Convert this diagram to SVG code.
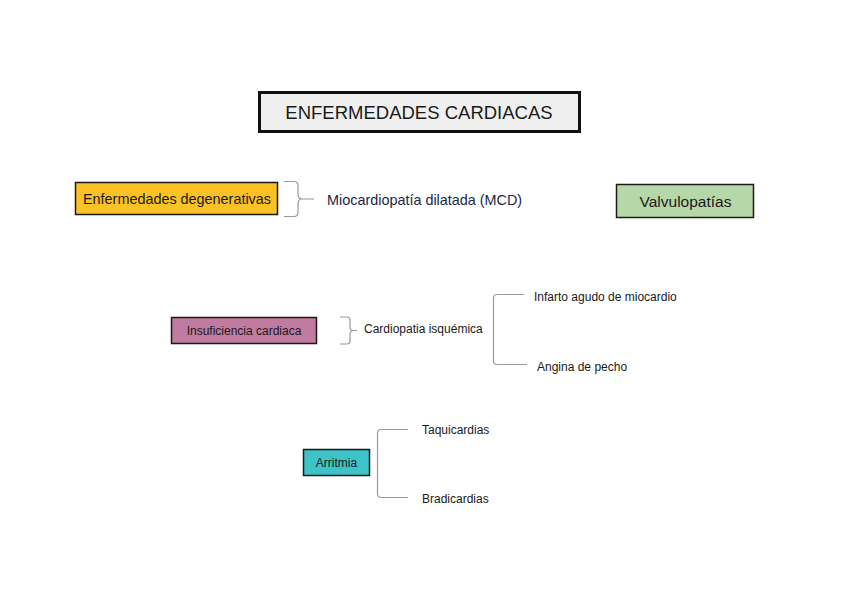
<svg xmlns="http://www.w3.org/2000/svg" width="848" height="599" viewBox="0 0 848 599">
<style>
text{font-family:"Liberation Sans",Arial,sans-serif;fill:#1a1a1a}
.box{stroke:#1a1a1a;stroke-width:1.5}
.con{fill:none;stroke:#9a9a9a;stroke-width:1.2}
.s{font-size:12px}
</style>
<rect width="848" height="599" fill="#ffffff"/>
<g id="title">
<rect x="259.5" y="92.5" width="320" height="39" fill="#efefef" stroke="#111" stroke-width="3"/>
<text x="419" y="118.5" font-size="18.5" text-anchor="middle">ENFERMEDADES CARDIACAS</text>
</g>
<g id="degenerativas">
<rect class="box" x="75.5" y="182.5" width="202" height="32" fill="#fbc227"/>
<text x="177" y="204" font-size="14.4" text-anchor="middle">Enfermedades degenerativas</text>
</g>
<g id="mcd">
<text x="327" y="204.5" font-size="14.4" style="fill:#1c2747">Miocardiopatía dilatada (MCD)</text>
</g>
<g id="valvulopatias">
<rect class="box" x="616.5" y="184.5" width="137" height="33" fill="#b6d7a8"/>
<text x="685.5" y="206.5" font-size="15.5" text-anchor="middle">Valvulopatías</text>
</g>
<g id="insuficiencia">
<rect class="box" x="171.5" y="317.5" width="145" height="26" fill="#c27ba0"/>
<text x="244" y="335" class="s" text-anchor="middle">Insuficiencia cardiaca</text>
</g>
<g id="isquemica">
<text x="364" y="332.5" class="s">Cardiopatia isquémica</text>
</g>
<g id="infarto">
<text x="534" y="300.5" class="s">Infarto agudo de miocardio</text>
</g>
<g id="angina">
<text x="537" y="370.5" class="s">Angina de pecho</text>
</g>
<g id="arritmia">
<rect class="box" x="303.5" y="449.5" width="66" height="26" fill="#3dc3c8"/>
<text x="336.5" y="467" class="s" text-anchor="middle">Arritmia</text>
</g>
<g id="taquicardias">
<text x="422" y="433.5" class="s">Taquicardias</text>
</g>
<g id="bradicardias">
<text x="422" y="502.5" class="s">Bradicardias</text>
</g>
<g id="connectors">
<path class="con" d="M284 181.5 H294 Q298 181.5 298 186 V194 Q298 199 302 199 H314 M302 199 Q298 199 298 204 V212 Q298 216.5 294 216.5 H284"/>
<path class="con" d="M340 317 H347 Q350 317 350 320 V327 Q350 330.5 353 330.5 H357 M353 330.5 Q350 330.5 350 334 V341 Q350 344 347 344 H340"/>
<path class="con" d="M524 294.5 H497 Q493.5 294.5 493.5 298 V361 Q493.5 364.5 497 364.5 H527"/>
<path class="con" d="M408 429.5 H381 Q377.5 429.5 377.5 433 V494 Q377.5 497.5 381 497.5 H408"/>
</g>
</svg>
